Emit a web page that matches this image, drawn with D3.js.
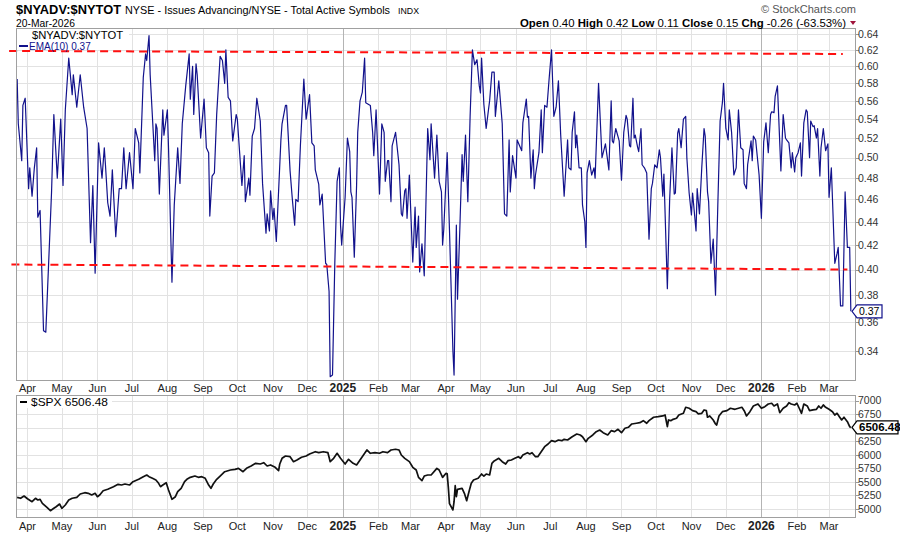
<!DOCTYPE html>
<html><head><meta charset="utf-8">
<script src="https://cdn.jsdelivr.net/npm/d3@7"></script>
<style>
body{margin:0;background:#fff}
svg{display:block}
text{font-family:"Liberation Sans",Arial,sans-serif}
</style>
</head><body>
<svg id="chart" width="900" height="534"></svg>
<script>
// ---------------- DATA ----------------
const breadthDates = [
"2024-03-23","2024-03-24","2024-03-27","2024-03-28","2024-03-30","2024-04-02","2024-04-03","2024-04-05","2024-04-07","2024-04-09",
"2024-04-10","2024-04-12","2024-04-15","2024-04-17","2024-04-22","2024-04-24","2024-04-27","2024-04-30","2024-05-02","2024-05-04",
"2024-05-07","2024-05-10","2024-05-11","2024-05-14","2024-05-17","2024-05-20","2024-05-23","2024-05-26","2024-05-28","2024-05-30",
"2024-06-02","2024-06-05","2024-06-07","2024-06-08","2024-06-10","2024-06-12","2024-06-14","2024-06-17","2024-06-20","2024-06-22",
"2024-06-24","2024-06-26","2024-06-29","2024-07-02","2024-07-04","2024-07-07","2024-07-08","2024-07-11","2024-07-13","2024-07-14",
"2024-07-16","2024-07-17","2024-07-21","2024-07-22","2024-07-23","2024-07-25","2024-07-28","2024-07-29","2024-08-01","2024-08-02",
"2024-08-05","2024-08-07","2024-08-10","2024-08-12","2024-08-14","2024-08-17","2024-08-20","2024-08-21","2024-08-23","2024-08-24",
"2024-08-26","2024-08-27","2024-08-30","2024-09-02","2024-09-04","2024-09-06","2024-09-07","2024-09-09","2024-09-11","2024-09-13",
"2024-09-16","2024-09-18","2024-09-20","2024-09-21","2024-09-23","2024-09-25","2024-09-27","2024-09-30","2024-10-01","2024-10-05",
"2024-10-07","2024-10-08","2024-10-11","2024-10-12","2024-10-14","2024-10-16","2024-10-18","2024-10-21","2024-10-23","2024-10-26",
"2024-10-27","2024-10-29","2024-10-30","2024-11-01","2024-11-02","2024-11-04","2024-11-08","2024-11-09","2024-11-12","2024-11-13",
"2024-11-16","2024-11-18","2024-11-20","2024-11-21","2024-11-23","2024-11-25","2024-11-28","2024-11-30","2024-12-03","2024-12-05",
"2024-12-07","2024-12-08","2024-12-11","2024-12-12","2024-12-14","2024-12-17","2024-12-18","2024-12-20","2024-12-21","2024-12-23",
"2024-12-25","2024-12-27","2024-12-29","2024-12-30","2024-12-31","2025-01-03","2025-01-05","2025-01-07","2025-01-08","2025-01-09",
"2025-01-11","2025-01-13","2025-01-14","2025-01-16","2025-01-18","2025-01-20","2025-01-21","2025-01-25","2025-01-27","2025-01-28",
"2025-01-30","2025-02-02","2025-02-04","2025-02-06","2025-02-07","2025-02-09","2025-02-10","2025-02-12","2025-02-13","2025-02-16",
"2025-02-19","2025-02-21","2025-02-22","2025-02-24","2025-02-25","2025-02-26","2025-02-28","2025-03-03","2025-03-05","2025-03-06",
"2025-03-08","2025-03-09","2025-03-11","2025-03-13","2025-03-16","2025-03-18","2025-03-19","2025-03-22","2025-03-24","2025-03-26",
"2025-03-28","2025-03-29","2025-03-30","2025-04-02","2025-04-04","2025-04-07","2025-04-08","2025-04-10","2025-04-11","2025-04-13",
"2025-04-15","2025-04-16","2025-04-18","2025-04-20","2025-04-22","2025-04-24","2025-04-26","2025-04-28","2025-04-30","2025-05-01",
"2025-05-02","2025-05-04","2025-05-06","2025-05-08","2025-05-09","2025-05-11","2025-05-13","2025-05-14","2025-05-17","2025-05-20",
"2025-05-22","2025-05-24","2025-05-26","2025-05-27","2025-05-29","2025-06-01","2025-06-02","2025-06-06","2025-06-07","2025-06-10",
"2025-06-11","2025-06-12","2025-06-14","2025-06-16","2025-06-17","2025-06-18","2025-06-21","2025-06-23","2025-06-24","2025-06-26",
"2025-06-28","2025-06-30","2025-07-02","2025-07-04","2025-07-06","2025-07-08","2025-07-10","2025-07-13","2025-07-16","2025-07-17",
"2025-07-19","2025-07-20","2025-07-22","2025-07-23","2025-07-24","2025-07-26","2025-07-28","2025-07-29","2025-07-31","2025-08-01",
"2025-08-02","2025-08-04","2025-08-06","2025-08-08","2025-08-09","2025-08-12","2025-08-15","2025-08-18","2025-08-21","2025-08-23",
"2025-08-24","2025-08-25","2025-08-27","2025-08-30","2025-09-01","2025-09-03","2025-09-05","2025-09-06","2025-09-08","2025-09-09",
"2025-09-11","2025-09-12","2025-09-13","2025-09-15","2025-09-16","2025-09-18","2025-09-19","2025-09-21","2025-09-23","2025-09-25",
"2025-09-27","2025-09-28","2025-09-30","2025-10-02","2025-10-04","2025-10-05","2025-10-07","2025-10-08","2025-10-11","2025-10-13",
"2025-10-15","2025-10-17","2025-10-18","2025-10-20","2025-10-21","2025-10-23","2025-10-25","2025-10-27","2025-10-28","2025-10-30",
"2025-11-01","2025-11-02","2025-11-05","2025-11-06","2025-11-08","2025-11-10","2025-11-12","2025-11-13","2025-11-15","2025-11-16",
"2025-11-18","2025-11-20","2025-11-22","2025-11-24","2025-11-26","2025-11-28","2025-11-29","2025-12-01","2025-12-03","2025-12-04",
"2025-12-06","2025-12-08","2025-12-10","2025-12-12","2025-12-14","2025-12-16","2025-12-17","2025-12-19","2025-12-20","2025-12-23",
"2025-12-24","2025-12-25","2025-12-27","2025-12-30","2026-01-01","2026-01-03","2026-01-05","2026-01-07","2026-01-09","2026-01-10",
"2026-01-12","2026-01-13","2026-01-15","2026-01-18","2026-01-20","2026-01-22","2026-01-23","2026-01-25","2026-01-27","2026-01-28",
"2026-01-30","2026-01-31","2026-02-02","2026-02-04","2026-02-05","2026-02-07","2026-02-09","2026-02-10","2026-02-12","2026-02-13",
"2026-02-15","2026-02-16","2026-02-18","2026-02-19","2026-02-21","2026-02-22","2026-02-24","2026-02-26","2026-02-28","2026-03-01",
"2026-03-03","2026-03-06","2026-03-08","2026-03-09","2026-03-11","2026-03-13","2026-03-15","2026-03-17","2026-03-19","2026-03-20"
];
const breadthValues = [
.585,.535,.497,.555,.563,.47,.49,.463,.49,.51,
.444,.45,.354,.353,.467,.545,.48,.54,.473,.55,
.61,.567,.59,.553,.59,.553,.53,.422,.473,.397,
.515,.48,.51,.493,.457,.445,.488,.427,.47,.47,
.51,.47,.505,.47,.53,.515,.485,.587,.615,.607,
.638,.59,.497,.535,.53,.465,.55,.523,.55,.51,
.39,.455,.51,.475,.535,.577,.615,.562,.60,.545,
.603,.59,.52,.562,.51,.505,.445,.482,.485,.545,
.612,.607,.58,.62,.564,.56,.517,.545,.54,.473,
.502,.458,.48,.464,.522,.53,.563,.538,.475,.43,
.447,.432,.468,.442,.452,.423,.518,.535,.555,.555,
.487,.46,.437,.46,.458,.512,.585,.54,.567,.515,
.512,.488,.474,.455,.465,.405,.404,.383,.323,.324,
.405,.477,.49,.437,.42,.462,.52,.506,.467,.462,
.41,.473,.526,.56,.57,.61,.558,.555,.526,.502,
.55,.465,.535,.526,.477,.497,.497,.458,.512,.526,
.493,.447,.445,.468,.47,.443,.483,.406,.453,.418,
.445,.398,.421,.395,.53,.498,.535,.48,.523,.477,
.467,.42,.433,.505,.433,.34,.324,.437,.377,.433,
.503,.477,.523,.458,.543,.62,.602,.608,.577,.569,
.61,.556,.53,.55,.56,.593,.593,.543,.583,.535,
.447,.445,.518,.467,.502,.48,.518,.507,.536,.562,
.542,.543,.48,.508,.47,.483,.505,.55,.505,.555,
.553,.587,.62,.543,.553,.583,.523,.463,.518,.49,
.488,.526,.548,.51,.523,.49,.49,.455,.44,.418,
.485,.497,.483,.49,.48,.58,.50,.514,.488,.56,
.517,.515,.53,.517,.478,.526,.544,.54,.512,.511,
.563,.52,.523,.511,.506,.53,.493,.49,.485,.425,
.47,.475,.493,.49,.508,.50,.463,.484,.385,.46,
.51,.465,.466,.525,.53,.51,.54,.543,.50,.466,
.446,.466,.432,.47,.447,.49,.53,.522,.467,.458,
.405,.425,.38,.455,.538,.558,.58,.53,.518,.55,
.526,.483,.49,.55,.51,.508,.475,.47,.493,.517,
.497,.522,.518,.483,.443,.516,.536,.505,.545,.548,
.547,.565,.577,.487,.545,.52,.518,.515,.49,.505,
.486,.50,.505,.515,.482,.536,.55,.548,.50,.538,
.532,.533,.52,.53,.482,.51,.53,.507,.514,.462,
.49,.405,.413,.418,.372,.372,.467,.418,.418,.368
];

const spxDates = [
"2024-03-23","2024-03-26","2024-03-29","2024-04-01","2024-04-05","2024-04-08","2024-04-10","2024-04-12","2024-04-14","2024-04-18",
"2024-04-21","2024-04-24","2024-04-26","2024-04-29","2024-05-01","2024-05-04","2024-05-07","2024-05-10","2024-05-14","2024-05-17",
"2024-05-21","2024-05-24","2024-05-27","2024-05-30","2024-06-01","2024-06-03","2024-06-06","2024-06-10","2024-06-15","2024-06-19",
"2024-06-22","2024-06-25","2024-06-29","2024-07-02","2024-07-07","2024-07-11","2024-07-14","2024-07-16","2024-07-19","2024-07-22",
"2024-07-24","2024-07-26","2024-07-28","2024-07-31","2024-08-02","2024-08-05","2024-08-08","2024-08-10","2024-08-13","2024-08-16",
"2024-08-18","2024-08-21","2024-08-25","2024-08-28","2024-08-31","2024-09-03","2024-09-06","2024-09-08","2024-09-10","2024-09-13",
"2024-09-16","2024-09-20","2024-09-25","2024-09-29","2024-10-02","2024-10-06","2024-10-09","2024-10-13","2024-10-17","2024-10-21",
"2024-10-24","2024-10-27","2024-10-30","2024-11-03","2024-11-06","2024-11-07","2024-11-09","2024-11-12","2024-11-16","2024-11-19",
"2024-11-22","2024-11-26","2024-11-30","2024-12-03","2024-12-08","2024-12-11","2024-12-15","2024-12-19","2024-12-21","2024-12-24",
"2024-12-27","2024-12-30","2025-01-03","2025-01-06","2025-01-10","2025-01-13","2025-01-16","2025-01-19","2025-01-22","2025-01-25",
"2025-01-29","2025-02-02","2025-02-05","2025-02-09","2025-02-12","2025-02-16","2025-02-19","2025-02-21","2025-02-24","2025-02-28",
"2025-03-03","2025-03-06","2025-03-08","2025-03-11","2025-03-13","2025-03-16","2025-03-19","2025-03-24","2025-03-26","2025-03-29",
"2025-04-01","2025-04-02","2025-04-03","2025-04-04","2025-04-07","2025-04-08","2025-04-09","2025-04-10","2025-04-11","2025-04-15",
"2025-04-17","2025-04-19","2025-04-21","2025-04-23","2025-04-25","2025-04-29","2025-05-02","2025-05-04","2025-05-06","2025-05-09",
"2025-05-11","2025-05-13","2025-05-17","2025-05-20","2025-05-23","2025-05-25","2025-05-28","2025-05-31","2025-06-03","2025-06-05",
"2025-06-07","2025-06-11","2025-06-13","2025-06-15","2025-06-18","2025-06-20","2025-06-23","2025-06-26","2025-06-29","2025-07-02",
"2025-07-05","2025-07-08","2025-07-11","2025-07-13","2025-07-16","2025-07-20","2025-07-24","2025-07-27","2025-07-29","2025-08-01",
"2025-08-03","2025-08-07","2025-08-10","2025-08-13","2025-08-16","2025-08-20","2025-08-23","2025-08-26","2025-08-29","2025-09-01",
"2025-09-04","2025-09-07","2025-09-10","2025-09-14","2025-09-17","2025-09-20","2025-09-23","2025-09-25","2025-09-29","2025-10-03",
"2025-10-07","2025-10-09","2025-10-11","2025-10-12","2025-10-14","2025-10-16","2025-10-19","2025-10-21","2025-10-25","2025-10-27",
"2025-10-30","2025-11-02","2025-11-05","2025-11-07","2025-11-10","2025-11-12","2025-11-14","2025-11-15","2025-11-17","2025-11-20",
"2025-11-22","2025-11-23","2025-11-25","2025-11-28","2025-12-02","2025-12-05","2025-12-09","2025-12-12","2025-12-15","2025-12-17",
"2025-12-19","2025-12-22","2025-12-25","2025-12-29","2026-01-01","2026-01-04","2026-01-07","2026-01-10","2026-01-12","2026-01-15",
"2026-01-17","2026-01-20","2026-01-23","2026-01-25","2026-01-27","2026-01-30","2026-02-01","2026-02-03","2026-02-05","2026-02-07",
"2026-02-10","2026-02-12","2026-02-15","2026-02-18","2026-02-20","2026-02-22","2026-02-24","2026-02-26","2026-03-01","2026-03-04",
"2026-03-06","2026-03-08","2026-03-10","2026-03-12","2026-03-14","2026-03-17","2026-03-19","2026-03-20"
];
const spxValues = [
5216,5198,5240,5190,5135,5198,5166,5179,5105,5031,
4969,5013,5042,5092,5013,5074,5166,5198,5216,5277,
5301,5290,5259,5290,5227,5259,5338,5364,5412,5456,
5443,5462,5443,5504,5548,5597,5628,5597,5567,5536,
5486,5412,5443,5486,5351,5179,5227,5320,5382,5504,
5548,5585,5609,5585,5597,5567,5443,5382,5462,5548,
5609,5689,5720,5733,5751,5689,5751,5794,5844,5831,
5855,5794,5813,5770,5707,5831,5936,5979,5966,5874,
5905,5955,5979,6016,6058,6040,6058,6040,5874,5936,
6029,5936,5831,5918,5844,5813,5905,5997,6090,6029,
6040,6029,6058,6040,6090,6103,6090,5997,5936,5874,
5770,5720,5585,5523,5609,5628,5628,5751,5720,5585,
5659,5650,5400,5100,4982,5135,5430,5227,5364,5382,
5290,5153,5320,5475,5536,5567,5646,5609,5646,5628,
5844,5887,5936,5874,5831,5892,5905,5936,5966,5936,
5997,6040,6016,6040,5966,5966,6058,6151,6200,6262,
6243,6274,6262,6287,6274,6335,6385,6367,6335,6243,
6305,6367,6428,6459,6409,6367,6446,6428,6472,6409,
6490,6509,6570,6583,6594,6631,6583,6631,6694,6705,
6718,6736,6520,6644,6631,6656,6675,6736,6767,6878,
6860,6816,6797,6755,6767,6829,6816,6694,6718,6644,
6570,6551,6718,6797,6816,6860,6841,6860,6878,6816,
6718,6797,6902,6939,6860,6890,6939,6952,6902,6939,
6779,6860,6902,6963,6939,6921,6952,6860,6767,6939,
6902,6816,6829,6841,6902,6860,6921,6878,6841,6797,
6736,6767,6705,6644,6694,6612,6520,6506.48
];

// Trendlines drawn on the breadth panel (start / end)
const resistanceDates = ["2024-03-16","2026-03-13"];
const resistanceValues = [0.6187, 0.615];
const supportDates = ["2024-03-18","2026-03-17"];
const supportValues = [0.404, 0.400];

const breadthTicks = [0.34,0.36,0.38,0.40,0.42,0.44,0.46,0.48,0.50,0.52,0.54,0.56,0.58,0.60,0.62,0.64];
const spxTicks = [5000,5250,5500,5750,6000,6250,6500,6750,7000];
const spxTickLabels = ["5000","5250","5500","5750","6000","6250","","6750","7000"];

const ohlcLabels = ["Open","High","Low","Close","Chg"];
const ohlcValues = ["0.40","0.42","0.11","0.15","-0.26 (-63.53%)"];

// ---------------- CHART ----------------
const parse = d3.timeParse("%Y-%m-%d");
const svg = d3.select("#chart");
const L = 16, R = 856;
const top1 = 28, bot1 = 381, top2 = 395, bot2 = 518;

const x = d3.scaleTime()
  .domain([new Date(2024,2,22), new Date(2026,2,24,12)])
  .range([L, R]);
const y1 = d3.scaleLog().domain([0.3202, 0.6477]).range([bot1, top1]);
const y2 = d3.scaleLinear().domain([4834, 7105]).range([bot2, top2]);

const breadth = breadthDates.map((d,i)=>({d:parse(d), v:breadthValues[i]}));
const spx = spxDates.map((d,i)=>({d:parse(d), v:spxValues[i]}));
const months = d3.timeMonth.range(new Date(2024,2,25), new Date(2026,2,24));

function panel(yTop, yBot, yScale, ticks) {
  const g = svg.append("g");
  g.append("rect").attr("x",L).attr("y",yTop).attr("width",R-L).attr("height",yBot-yTop).attr("fill","#fff");
  g.selectAll(".hg").data(ticks).join("line")
    .attr("x1",L).attr("x2",R).attr("y1",d=>Math.round(yScale(d))+0.5).attr("y2",d=>Math.round(yScale(d))+0.5)
    .attr("stroke","#e2e2e2").attr("stroke-width",1);
  g.selectAll(".vg").data(months).join("line")
    .attr("x1",d=>Math.round(x(d))+0.5).attr("x2",d=>Math.round(x(d))+0.5)
    .attr("y1",yTop).attr("y2",yBot)
    .attr("stroke",d=>d.getMonth()===0?"#b4b4b4":"#e2e2e2").attr("stroke-width",1);
  return g;
}

panel(top1, bot1, y1, breadthTicks);
panel(top2, bot2, y2, spxTicks);

// month labels
function monthLabels(yBase) {
  svg.append("g").selectAll("text").data(months).join("text")
    .attr("x",d=>x(d)).attr("y",yBase).attr("text-anchor","middle")
    .attr("font-size",d=>d.getMonth()===0?"12px":"11px")
    .attr("font-weight",d=>d.getMonth()===0?"bold":"normal")
    .attr("fill","#222")
    .text(d=>d.getMonth()===0?d3.timeFormat("%Y")(d):d3.timeFormat("%b")(d));
}
monthLabels(392);
monthLabels(530);

// legend backgrounds
svg.append("rect").attr("x",17).attr("y",29).attr("width",112).attr("height",21).attr("fill","#fff");
svg.append("rect").attr("x",17).attr("y",396).attr("width",95).attr("height",12).attr("fill","#fff");

// lines
const line1 = d3.line().x(d=>x(d.d)).y(d=>y1(d.v));
svg.append("path").datum(breadth).attr("d",line1)
  .attr("fill","none").attr("stroke","#12128c").attr("stroke-width",1.2).attr("stroke-linejoin","round");

const line2 = d3.line().x(d=>x(d.d)).y(d=>y2(d.v));
svg.append("path").datum(spx).attr("d",line2)
  .attr("fill","none").attr("stroke","#111").attr("stroke-width",1.7).attr("stroke-linejoin","round");

// trendlines
function trend(dates, vals) {
  const pts = dates.map((d,i)=>({d:parse(d), v:vals[i]}));
  svg.append("path").datum(pts).attr("d",line1)
    .attr("fill","none").attr("stroke","#ff1010").attr("stroke-width",2)
    .attr("stroke-dasharray","8,5");
}
trend(resistanceDates, resistanceValues);
trend(supportDates, supportValues);

// panel borders
[[top1,bot1],[top2,bot2]].forEach(([a,b])=>{
  svg.append("rect").attr("x",L+0.5).attr("y",a+0.5).attr("width",R-L-1).attr("height",b-a-1)
    .attr("fill","none").attr("stroke","#a0a0a0").attr("stroke-width",1);
});

// right axes
function rightAxis(yScale, ticks, labels) {
  const g = svg.append("g");
  g.selectAll("line").data(ticks).join("line")
    .attr("x1",R).attr("x2",R+3).attr("y1",d=>Math.round(yScale(d))+0.5).attr("y2",d=>Math.round(yScale(d))+0.5)
    .attr("stroke","#999");
  g.selectAll("text").data(ticks).join("text")
    .attr("x",R+2).attr("y",d=>yScale(d)+3.8).attr("font-size","10.5px").attr("fill","#333")
    .text((d,i)=>labels[i]);
}
rightAxis(y1, breadthTicks, breadthTicks.map(d=>d3.format(".2f")(d)));
rightAxis(y2, spxTicks, spxTickLabels);

// last-value tags
function tag(yv, txt, w, color, bold) {
  const g = svg.append("g");
  const h = 13;
  const x0 = R-4;
  g.append("path")
    .attr("d",`M${x0},${yv} L${x0+5},${yv-h/2} L${x0+5+w},${yv-h/2} L${x0+5+w},${yv+h/2} L${x0+5},${yv+h/2} Z`)
    .attr("fill","#fff").attr("stroke",color).attr("stroke-width",1.2);
  g.append("text").attr("x",x0+7).attr("y",yv+4).attr("font-size",bold?"11.5px":"10.5px")
    .attr("font-weight",bold?"bold":"normal").attr("fill","#000").text(txt);
}
const lastB = breadth[breadth.length-1].v;
const lastS = spx[spx.length-1].v;
tag(y1(lastB), d3.format(".2f")(lastB), 25, "#12128c", false);
tag(y2(lastS), d3.format(".2f")(lastS), 41, "#000", true);

// legends
svg.append("text").attr("x",32).attr("y",39).attr("font-size","10.5px").attr("fill","#000")
  .attr("textLength",91).attr("lengthAdjust","spacingAndGlyphs").text("$NYADV:$NYTOT");
svg.append("line").attr("x1",19).attr("x2",28).attr("y1",46).attr("y2",46).attr("stroke","#12128c").attr("stroke-width",2);
svg.append("text").attr("x",29).attr("y",50).attr("font-size","10px").attr("fill","#12128c")
  .text("EMA(10) " + d3.format(".2f")(lastB));
svg.append("line").attr("x1",20).attr("x2",27).attr("y1",402).attr("y2",402).attr("stroke","#000").attr("stroke-width",2);
svg.append("text").attr("x",31).attr("y",406).attr("font-size","10.5px").attr("fill","#000")
  .attr("textLength",77).attr("lengthAdjust","spacingAndGlyphs")
  .text("$SPX " + d3.format(".2f")(lastS));

// header
svg.append("text").attr("x",16).attr("y",14).attr("font-size","12.5px").attr("font-weight","bold")
  .attr("textLength",105).attr("lengthAdjust","spacingAndGlyphs").text("$NYADV:$NYTOT");
svg.append("text").attr("x",125).attr("y",14).attr("font-size","11px")
  .attr("textLength",265).attr("lengthAdjust","spacingAndGlyphs").text("NYSE - Issues Advancing/NYSE - Total Active Symbols");
svg.append("text").attr("x",398).attr("y",14).attr("font-size","9.5px")
  .attr("textLength",21).attr("lengthAdjust","spacingAndGlyphs").text("INDX");
svg.append("text").attr("x",16).attr("y",26.5).attr("font-size","11px")
  .attr("textLength",59).attr("lengthAdjust","spacingAndGlyphs").text("20-Mar-2026");
svg.append("text").attr("x",856).attr("y",13).attr("font-size","11px").attr("text-anchor","end").attr("fill","#555")
  .text("\u00A9 StockCharts.com");

const ohlc = svg.append("text").attr("x",520).attr("y",26.5).attr("font-size","11px")
  .attr("textLength",326).attr("lengthAdjust","spacingAndGlyphs");
ohlcLabels.forEach((lab,i)=>{
  ohlc.append("tspan").attr("font-weight","bold").text((i?"  ":"")+lab);
  ohlc.append("tspan").text(" "+ohlcValues[i]);
});
svg.append("path").attr("d","M850,21 L856,21 L853,25 Z").attr("fill","#a0143c");
</script>
</body></html>
